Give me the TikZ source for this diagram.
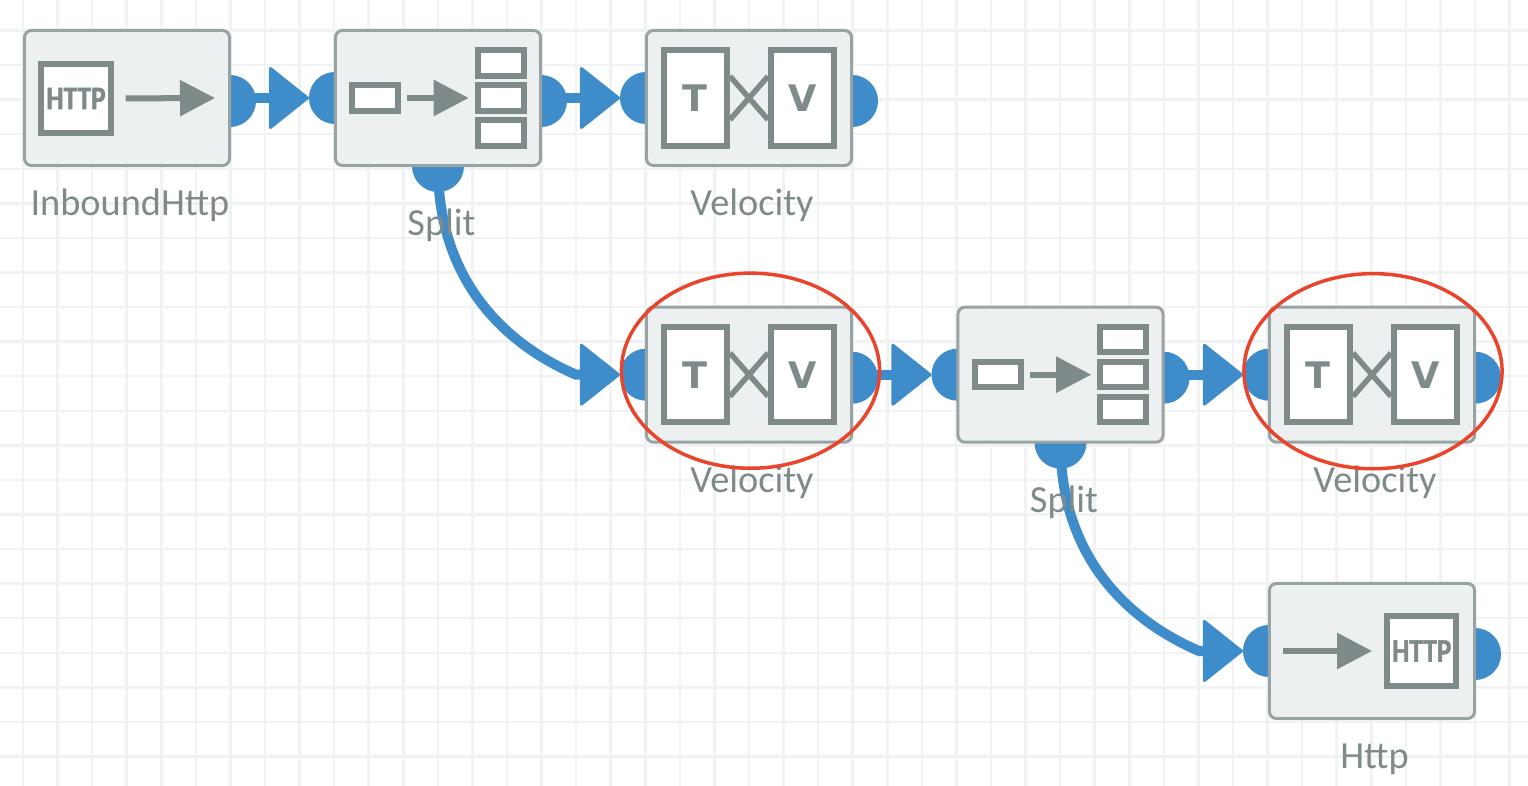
\documentclass[tikz,border=0pt]{standalone}
\usepackage{fontspec}
\setmainfont{Carlito}[BoldFeatures={FakeBold=1.5}]
\newfontfamily\letterfont{DejaVu Sans}
\usetikzlibrary{calc}
\usetikzlibrary{arrows.meta}
\usetikzlibrary{shapes.geometric}
\definecolor{flowblue}{HTML}{3F8CCB}
\definecolor{icongrey}{HTML}{7F8A8B}
\definecolor{boxgrey}{HTML}{98A3A3}
\definecolor{boxfill}{HTML}{ECF0F1}
\definecolor{gridgrey}{HTML}{F1F2F3}
\definecolor{halored}{HTML}{E8452C}
\tikzset{
    gridline/.style={gridgrey,line width=0.025cm},
    port/.style={circle,fill=flowblue,minimum size=0.52cm,inner sep=0,outer sep=0},
    flow/.style={flowblue,line width=0.1cm,-{Triangle[length=0.41cm,width=0.645cm,round,line width=0.03cm]}},
    block/.style={draw=boxgrey,fill=boxfill,line width=0.03cm,rounded corners=0.07cm,minimum width=2.05cm,minimum height=1.35cm,inner sep=0},
    iconbox/.style={draw=icongrey,fill=white,line width=0.06cm,inner sep=0,text=icongrey},
    iconline/.style={icongrey,line width=0.06cm},
    iconarrow/.style={iconline,-{Triangle[length=0.35cm,width=0.35cm]}},
    cross/.style={icongrey,line width=0.055cm},
    caption/.style={anchor=base,text=icongrey,font=\fontsize{10.9}{13}\selectfont},
    halo/.style={ellipse,draw=halored,line width=0.035cm,minimum width=2.58cm,minimum height=1.95cm,inner sep=0}
}
\newcommand{\httptext}{\fontsize{9.4}{11}\selectfont\bfseries\scalebox{0.83}[1]{HTTP}}
\begin{document}
\begin{tikzpicture}[x=0.01cm,y=-0.01cm]
    \useasboundingbox (0,0) rectangle (1528,786);
    \foreach \k in {0,...,43} {
        \draw[gridline] ({23+34.57*\k},0) -- ({23+34.57*\k},786);
    }
    \foreach \k in {0,...,21} {
        \draw[gridline] (0,{30.5+34.57*\k}) -- (1528,{30.5+34.57*\k});
    }
    \coordinate (inhttp) at (127,98);
    \coordinate (splitA) at (438,98);
    \coordinate (velA) at (749,98);
    \coordinate (velB) at (749,374.7);
    \coordinate (splitB) at (1060.5,374.7);
    \coordinate (velC) at (1372,374.7);
    \coordinate (http) at (1372,651);
    \foreach \p in {inhttp,splitA,velA,velB,splitB,velC,http} {
        \node[port] (\p-out) at ($(\p)+(103,3)$) {};
    }
    \foreach \p in {splitA,velA,velB,splitB,velC,http} {
        \node[port] (\p-in) at ($(\p)+(-103,0)$) {};
    }
    \node[port] (splitA-down) at ($(splitA)+(0,68)$) {};
    \node[port] (splitB-down) at ($(splitB)+(0,68)$) {};
    \draw[flow] (inhttp-out |- splitA-in) -- (splitA-in.west);
    \draw[flow] (splitA-out |- velA-in) -- (velA-in.west);
    \draw[flow] (velB-out |- splitB-in) -- (splitB-in.west);
    \draw[flow] (splitB-out |- velC-in) -- (velC-in.west);
    \draw[flow] (splitA-down.center) .. controls +(0,112) and ($(velB-in.west)+(-118,-32)$) .. ($(velB-in.west)+(-44,0)$) -- (velB-in.west);
    \draw[flow] (splitB-down.center) .. controls +(0,112) and ($(http-in.west)+(-118,-32)$) .. ($(http-in.west)+(-44,0)$) -- (http-in.west);
    \foreach \p in {inhttp,splitA,velA,velB,splitB,velC,http} {
        \node[block] (\p-box) at (\p) {};
    }
    \node[iconbox,minimum size=0.69cm] (inhttp-icon) at ($(inhttp)+(-51,0.5)$) {\httptext};
    \draw[iconarrow,shorten <=0.12cm] (inhttp-icon.east) -- ($(inhttp)+(88,0)$);
    \node[iconbox,minimum size=0.69cm] (http-icon) at ($(http)+(49.7,0)$) {\httptext};
    \draw[iconarrow] ($(http)+(-89,0)$) -- ($(http)+(0,0)$);
    \foreach \p in {splitA,splitB} {
        \node[iconbox,minimum width=0.46cm,minimum height=0.254cm] (\p-src) at ($(\p)+(-62.7,0)$) {};
        \node[iconbox,minimum width=0.46cm,minimum height=0.254cm] (\p-mid) at ($(\p)+(62.7,0)$) {};
        \node[iconbox,minimum width=0.46cm,minimum height=0.254cm] (\p-top) at ($(\p)+(62.7,-35)$) {};
        \node[iconbox,minimum width=0.46cm,minimum height=0.254cm] (\p-low) at ($(\p)+(62.7,35)$) {};
        \draw[iconarrow,shorten <=0.06cm,shorten >=0.06cm] (\p-src.east) -- (\p-mid.west);
    }
    \foreach \p in {velA,velB,velC} {
        \node[iconbox,minimum width=0.633cm,minimum height=0.95cm,font=\letterfont\bfseries\fontsize{10.4}{12}\selectfont] (\p-t) at ($(\p)+(-53.7,0)$) {T};
        \node[iconbox,minimum width=0.633cm,minimum height=0.95cm,font=\letterfont\bfseries\fontsize{10.4}{12}\selectfont] (\p-v) at ($(\p)+(53.7,0)$) {V};
        \draw[cross] ($(\p-t.east)+(0,-21.7)$) -- ($(\p-v.west)+(0,21.7)$);
        \draw[cross] ($(\p-t.east)+(0,21.7)$) -- ($(\p-v.west)+(0,-21.7)$);
    }
    \node[caption] (inhttp-label) at ($(inhttp)+(3,117.5)$) {InboundHttp};
    \node[caption] (velA-label) at ($(velA)+(3,117.5)$) {Velocity};
    \node[caption] (velB-label) at ($(velB)+(3,117.5)$) {Velocity};
    \node[caption] (velC-label) at ($(velC)+(3,117.5)$) {Velocity};
    \node[caption] (splitA-label) at ($(splitA)+(3.5,137.5)$) {Split};
    \node[caption] (splitB-label) at ($(splitB)+(3.5,137.5)$) {Split};
    \node[caption] (http-label) at ($(http)+(2.5,117.5)$) {Http};
    \node[halo] (velB-halo) at ($(velB)+(1.5,-4)$) {};
    \node[halo] (velC-halo) at ($(velC)+(1,-3.5)$) {};
\end{tikzpicture}
\end{document}
